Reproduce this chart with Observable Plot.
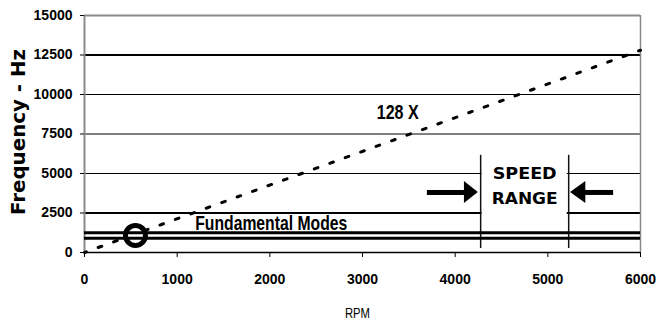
<!DOCTYPE html>
<html><head><meta charset="utf-8">
<script src="https://cdn.jsdelivr.net/npm/d3@7"></script>
<script src="https://cdn.jsdelivr.net/npm/@observablehq/plot@0.6"></script>
<style>body{margin:0;background:#fff} svg{display:block}</style>
</head><body><div id="chart"></div>
<script>
// ---- data ----
const rpmTicks = [0, 1000, 2000, 3000, 4000, 5000, 6000];
const freqTicks = [0, 2500, 5000, 7500, 10000, 12500, 15000];
const gridFreq = [2500, 5000, 7500, 10000, 12500];
const orderRpm = [0, 6000];          // 128X order line endpoints
const orderHz = [0, 12800];
const fundamentalHz = [900, 1250];   // fundamental mode frequencies
const speedRangeRpm = [4275, 5225];
const speedRangeHz = [250, 6150];
const markerRpm = 550, markerHz = 1080;
const arrowHz = 3800, arrowHalfHz = 700;
const leftArrowRpm = [3700, 4100, 4250];   // tail, head base, tip
const rightArrowRpm = [5710, 5410, 5245];
const orderLabel = "128 X", orderLabelRpm = 3380, orderLabelHz = 8900;
const modesLabel = "Fundamental Modes", modesLabelRpm = 1195, modesLabelHz = 1840;
const rangeTexts = ["SPEED", "RANGE"];
const rangeTextRpm = [4750, 4750];
const rangeTextHz = [4950, 3400];

const sans = "'Liberation Sans',Arial,sans-serif";
const heavy = "'DejaVu Sans','Liberation Sans',sans-serif";

const orderLine = orderRpm.map((r, i) => ({rpm: r, hz: orderHz[i]}));
const head = (pts) => [
  {rpm: pts[1], lo: arrowHz - arrowHalfHz, hi: arrowHz + arrowHalfHz},
  {rpm: pts[2], lo: arrowHz, hi: arrowHz}
];
const rangeLabels = rangeTexts.map((t, i) => ({t, rpm: rangeTextRpm[i], hz: rangeTextHz[i]}));

const chart = Plot.plot({
  width: 656, height: 328,
  marginLeft: 84, marginRight: 16, marginTop: 15, marginBottom: 76,
  x: {domain: [0, 6000]},
  y: {domain: [0, 15000]},
  style: {background: "#fff", color: "#000", fontFamily: sans},
  marks: [
    Plot.ruleY(gridFreq, {stroke: "#000", strokeWidth: d => (d === 2500 || d === 12500) ? 2 : 1}),
    Plot.ruleY([15000], {stroke: "#8a8a8a", strokeWidth: 2}),
    Plot.ruleX([6000], {stroke: "#8a8a8a", strokeWidth: 1.5}),
    Plot.ruleX([0], {stroke: "#8a8a8a", strokeWidth: 2}),
    Plot.rect([0], {x1: () => speedRangeRpm[0] + 15, x2: () => speedRangeRpm[1] - 15, y1: () => 1450, y2: () => speedRangeHz[1], fill: "#fff"}),
    Plot.ruleX(speedRangeRpm, {x: d => d, y1: () => speedRangeHz[0], y2: () => speedRangeHz[1], stroke: "#111", strokeWidth: 1.5}),
    Plot.line(orderLine, {x: "rpm", y: "hz", stroke: "#000", strokeWidth: 3, strokeDasharray: "3.8,12.63", strokeDashoffset: 1.9}),
    Plot.dot([0], {x: () => markerRpm, y: () => markerHz, r: 10, stroke: "#000", strokeWidth: 5, fill: "#fff"}),
    Plot.ruleY(fundamentalHz, {stroke: "#000", strokeWidth: 3}),
    Plot.ruleY([0], {stroke: "#000", strokeWidth: 1.5}),
    Plot.axisX({ticks: rpmTicks, tickSize: 5, tickPadding: 17, label: null, tickFormat: d => String(d), fontSize: 14, fontWeight: "bold", fontFamily: sans}),
    Plot.axisY({ticks: freqTicks, tickSize: 4, tickPadding: 8, label: null, tickFormat: d => String(d), fontSize: 14, fontWeight: "bold", fontFamily: sans}),
    // arrows
    Plot.ruleY([arrowHz], {x1: () => leftArrowRpm[0], x2: () => leftArrowRpm[1] + 10, strokeWidth: 5, stroke: "#000"}),
    Plot.areaY(head(leftArrowRpm), {x: "rpm", y1: "lo", y2: "hi", fill: "#000"}),
    Plot.ruleY([arrowHz], {x1: () => rightArrowRpm[0], x2: () => rightArrowRpm[1] - 10, strokeWidth: 5, stroke: "#000"}),
    Plot.areaY(head(rightArrowRpm), {x: "rpm", y1: "lo", y2: "hi", fill: "#000"}),
    // labels
    Plot.text([orderLabel], {x: () => orderLabelRpm, y: () => orderLabelHz, text: d => d, textAnchor: "middle", fontSize: 21, fontWeight: "bold", fontFamily: sans, fill: "#000"}),
    Plot.text([modesLabel], {x: () => modesLabelRpm, y: () => modesLabelHz, text: d => d, textAnchor: "start", fontSize: 21, fontWeight: "bold", fontFamily: sans, fill: "#000"}),
    Plot.text(rangeLabels, {x: "rpm", y: "hz", text: "t", fontSize: 16, fontWeight: "bold", fontFamily: heavy, fill: "#000"}),
    Plot.text(["RPM"], {frameAnchor: "bottom", dy: 65, dx: -5, text: d => d, fontSize: 15, fontFamily: sans, fill: "#000"}),
    Plot.text(["Frequency - Hz"], {frameAnchor: "left", dx: -66, dy: -2, rotate: -90, textAnchor: "middle", text: d => d, fontSize: 19, fontWeight: "bold", fontFamily: heavy, fill: "#000"})
  ]
});
const fitWidths = {"128 X": 42, "Fundamental Modes": 152, "SPEED": 64, "RANGE": 66, "RPM": 25, "Frequency - Hz": 166};
d3.select(chart).selectAll("text").each(function() {
  const w = fitWidths[this.textContent];
  if (w) d3.select(this).attr("textLength", w).attr("lengthAdjust", "spacingAndGlyphs");
});
document.getElementById("chart").appendChild(chart);
</script>
</body></html>
